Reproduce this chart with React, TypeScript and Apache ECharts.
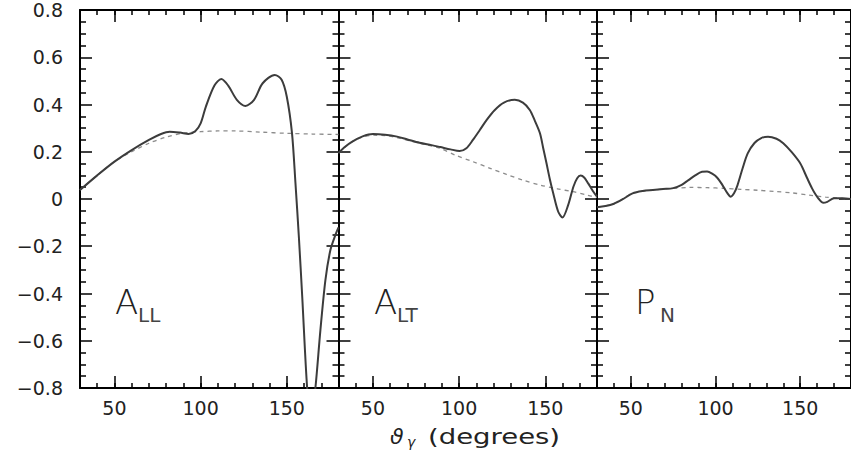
import React, { useEffect, useRef } from "react";
import * as echarts from "echarts";

// ---- axis ranges / ticks ----
const xMin = 30;
const xMax = 180;
const yMin = -0.8;
const yMax = 0.8;
const yStep = 0.2;
const xMinorStep = 10;
const xMajorTicks = [50, 100, 150];

// ---- panel labels ----
const panelMain = ["A", "A", "P"];
const panelSub = ["LL", "LT", "N"];

// ---- data: [theta (deg), value] ----
const allSolid: [number, number][] = [
  [30, 0.038], [40, 0.1], [50, 0.158], [60, 0.207], [70, 0.25], [77, 0.275], [82, 0.285],
  [88, 0.281], [93, 0.275], [97, 0.288], [100, 0.32], [103, 0.39], [108, 0.48], [112, 0.508],
  [116, 0.48], [121, 0.42], [126, 0.394], [131, 0.42], [136, 0.49], [143, 0.525], [147, 0.505],
  [150, 0.433], [153, 0.28], [155, 0.07], [157, -0.16], [159, -0.42], [161.8, -0.8], [164, -0.95],
  [166.6, -0.8], [169.5, -0.555], [172.4, -0.343], [175.3, -0.216], [178.2, -0.152], [180, -0.12],
];
const allDashed: [number, number][] = [
  [30, 0.038], [40, 0.1], [50, 0.158], [60, 0.2], [70, 0.236], [80, 0.262], [90, 0.279],
  [100, 0.285], [110, 0.288], [120, 0.288], [135, 0.283], [150, 0.278], [165, 0.275], [180, 0.273],
];
const altSolid: [number, number][] = [
  [30, 0.195], [34, 0.222], [38, 0.243], [44, 0.265], [50, 0.275], [57, 0.272], [64, 0.264],
  [70, 0.252], [77, 0.238], [84, 0.228], [89, 0.22], [95, 0.21], [100.3, 0.203], [104.2, 0.215],
  [108, 0.25], [112, 0.292], [116, 0.335], [120.7, 0.377], [126, 0.408], [132.3, 0.42],
  [137, 0.408], [141, 0.377], [144, 0.33], [146.9, 0.278], [148.8, 0.215], [150.7, 0.151],
  [152.6, 0.085], [154.6, 0.024], [157.5, -0.054], [160, -0.078], [163.3, -0.025],
  [166.3, 0.052], [168.5, 0.088], [170.5, 0.099], [172.7, 0.09], [174.9, 0.066],
  [177.5, 0.035], [180, 0.01],
];
const altDashed: [number, number][] = [
  [30, 0.195], [38, 0.243], [44, 0.262], [50, 0.27], [57, 0.268], [64, 0.26], [72, 0.245],
  [80, 0.232], [88.7, 0.215], [98, 0.185], [108, 0.158], [118, 0.13], [127.5, 0.104],
  [137, 0.08], [147, 0.059], [157, 0.043], [166, 0.031], [174, 0.017], [180, 0.007],
];
const pnSolid: [number, number][] = [
  [30, -0.035], [35, -0.03], [40, -0.02], [45, -0.002], [51, 0.024], [57, 0.034], [63, 0.038],
  [69, 0.042], [75, 0.046], [80, 0.06], [84, 0.08], [88, 0.1], [92, 0.115], [95, 0.116],
  [98, 0.107], [101, 0.09], [104, 0.06], [107, 0.025], [109, 0.01], [111, 0.025], [113, 0.059],
  [116, 0.13], [119, 0.193], [123, 0.237], [127, 0.258], [131, 0.264], [136, 0.255],
  [140, 0.236], [145, 0.198], [150, 0.151], [154, 0.09], [157, 0.045], [159, 0.02], [161, 0.0],
  [163.6, -0.016], [166, -0.012], [170, 0.003], [175, 0.003], [180, 0.0],
];
const pnDashed: [number, number][] = [
  [30, -0.035], [40, -0.02], [51, 0.024], [63, 0.038], [75, 0.045], [85, 0.049], [95, 0.048],
  [105, 0.045], [115, 0.041], [125, 0.037], [135, 0.032], [145, 0.026], [155, 0.017],
  [165, 0.008], [180, 0.0],
];

const solidSets = [allSolid, altSolid, pnSolid];
const dashedSets = [allDashed, altDashed, pnDashed];

const FONT = "DejaVu Sans";
const INK = "#222";

const LEFTS = [80, 338.5, 597];
const W = 258.5;
const T = 10;
const H = 378;

function fmtY(v: number): string {
  const r = Math.round(v * 10) / 10;
  if (Math.abs(r) < 1e-9) return "0";
  const s = Math.abs(r).toFixed(1);
  return r < 0 ? "\u2212" + s : s;
}

// Base chart: frames, ticks, curves, panel labels, axis title (no styled axis labels)
function baseOption(): any {
  const grid = LEFTS.map((l) => ({ left: l, top: T, width: W, height: H }));
  const xAxis: any[] = [];
  const yAxis: any[] = [];
  const series: any[] = [];

  LEFTS.forEach((_, i) => {
    const mk = (pos: string, major: boolean, line: boolean) => ({
      type: "value",
      gridIndex: i,
      min: xMin,
      max: xMax,
      position: pos,
      ...(major ? {} : { interval: xMinorStep }),
      splitLine: { show: false },
      axisLine: { show: line, onZero: false, lineStyle: { color: "#000", width: 2 } },
      axisTick: major
        ? { show: true, inside: true, length: 12, customValues: xMajorTicks, lineStyle: { color: "#000", width: 1.5 } }
        : { show: true, inside: true, length: 5, lineStyle: { color: "#000", width: 1.5 } },
      axisLabel: { show: false },
    });
    xAxis.push(mk("bottom", true, true));
    xAxis.push(mk("top", false, true));
    xAxis.push(mk("bottom", false, false));
    xAxis.push(mk("top", true, false));

    const ybase = {
      type: "value",
      gridIndex: i,
      min: yMin,
      max: yMax,
      interval: yStep,
      splitLine: { show: false },
      axisLine: { show: true, onZero: false, lineStyle: { color: "#000", width: 2 } },
      axisTick: { show: true, inside: true, length: 12, lineStyle: { color: "#000", width: 1.5 } },
      minorTick: { show: true, splitNumber: 4, length: 6, lineStyle: { color: "#000", width: 1.5 } },
      axisLabel: { show: false },
    };
    yAxis.push({ ...ybase, position: "left" });
    yAxis.push({ ...ybase, position: "right" });

    series.push({
      type: "line",
      xAxisIndex: 4 * i,
      yAxisIndex: 2 * i,
      data: dashedSets[i],
      showSymbol: false,
      smooth: 0.3,
      lineStyle: { color: "#8c8c8c", width: 1.3, type: [4, 4] },
      z: 2,
    });
    series.push({
      type: "line",
      xAxisIndex: 4 * i,
      yAxisIndex: 2 * i,
      data: solidSets[i],
      showSymbol: false,
      smooth: 0.3,
      lineStyle: { color: "#3c3c3c", width: 2 },
      z: 3,
    });
  });

  const labelOffsets = [115, 374, 635];
  const graphic: any[] = [];
  labelOffsets.forEach((lx, i) => {
    graphic.push({
      type: "group",
      left: lx,
      top: 285,
      children: [
        {
          type: "text",
          x: 0,
          y: 19,
          style: { text: panelMain[i], font: `200 34px "${FONT}"`, fill: INK, verticalAlign: "middle", align: "left" },
        },
        {
          type: "text",
          x: i === 2 ? 25 : 23,
          y: 32,
          style: { text: panelSub[i], font: `normal 20px "${FONT}"`, fill: "#444", verticalAlign: "middle", align: "left" },
        },
      ],
    });
  });
  graphic.push({
    type: "group",
    left: 390,
    top: 425,
    children: [
      { type: "text", x: 0, y: 14, style: { text: "\u03D1", font: `italic 22px "${FONT}"`, fill: INK, verticalAlign: "middle" } },
      { type: "text", x: 17, y: 20, style: { text: "\u03B3", font: `italic 14px "${FONT}"`, fill: INK, verticalAlign: "middle" } },
      { type: "text", x: 38, y: 14, scaleX: 1.25, style: { text: "(degrees)", font: `22px "${FONT}"`, fill: INK, verticalAlign: "middle" } },
    ],
  });

  return { animation: false, grid, xAxis, yAxis, series, graphic };
}

// Overlay chart: same grid geometry, only the styled tick labels
function labelOption(): any {
  const grid = LEFTS.map((l) => ({ left: l, top: T, width: W, height: H }));
  const xAxis: any[] = [];
  const yAxis: any[] = [];
  LEFTS.forEach((_, i) => {
    xAxis.push({
      type: "value",
      gridIndex: i,
      min: xMin,
      max: xMax,
      position: "bottom",
      splitLine: { show: false },
      axisLine: { show: false, onZero: false },
      axisTick: { show: false },
      axisLabel: { show: true, customValues: xMajorTicks, color: INK, fontFamily: FONT, fontSize: 19, margin: 10 },
    });
    yAxis.push({
      type: "value",
      gridIndex: i,
      min: yMin,
      max: yMax,
      interval: yStep,
      position: "left",
      splitLine: { show: false },
      axisLine: { show: false, onZero: false },
      axisTick: { show: false },
      axisLabel: { show: i === 0, formatter: fmtY, color: INK, fontFamily: FONT, fontSize: 19, margin: 17 },
    });
  });
  return { animation: false, backgroundColor: "transparent", grid, xAxis, yAxis, series: [] };
}

export default function App() {
  const baseRef = useRef<HTMLDivElement>(null);
  const labelRef = useRef<HTMLDivElement>(null);

  useEffect(() => {
    if (!baseRef.current || !labelRef.current) return;
    const base = echarts.init(baseRef.current, undefined, { renderer: "svg" });
    base.setOption(baseOption());
    const labels = echarts.init(labelRef.current, undefined, { renderer: "svg" });
    labels.setOption(labelOption());
    return () => {
      base.dispose();
      labels.dispose();
    };
  }, []);

  return (
    <div style={{ position: "fixed", left: 0, top: 0, width: 851, height: 461, background: "#fff" }}>
      <div ref={baseRef} style={{ position: "absolute", left: 0, top: 0, width: 851, height: 461 }} />
      <div
        ref={labelRef}
        style={{ position: "absolute", left: 0, top: 0, width: 851, height: 461, pointerEvents: "none" }}
      />
    </div>
  );
}
